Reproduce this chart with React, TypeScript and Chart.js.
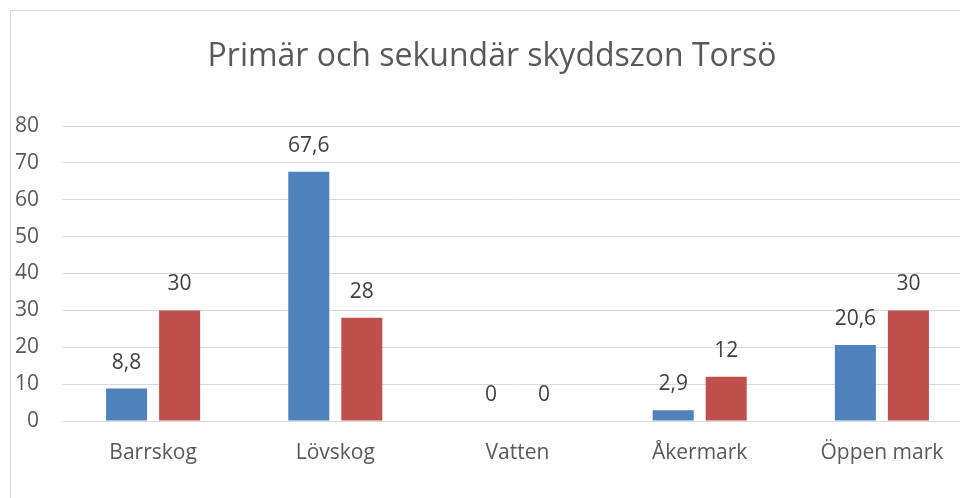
import React, { useEffect, useRef } from "react";
import { Chart, registerables } from "chart.js";

Chart.register(...registerables);

const categories = ["Barrskog", "Lövskog", "Vatten", "Åkermark", "Öppen mark"];
const seriesPrimary = [8.8, 67.6, 0, 2.9, 20.6];
const seriesSecondary = [30, 28, 0, 12, 30];
const seriesNames = ["Primär skyddszon", "Sekundär skyddszon"];
const titleText = "Primär och sekundär skyddszon Torsö";
const yMin = 0;
const yMax = 80;
const yStep = 10;

const FONT = "'Open Sans', 'Noto Sans', sans-serif";

const labelPlugin = {
  id: "valueLabels",
  afterDatasetsDraw(chart: any) {
    const ctx = chart.ctx;
    ctx.save();
    ctx.font = `21px ${FONT}`;
    ctx.fillStyle = "#404040";
    ctx.textAlign = "center";
    ctx.textBaseline = "middle";
    chart.data.datasets.forEach((ds: any, di: number) => {
      const meta = chart.getDatasetMeta(di);
      meta.data.forEach((bar: any, i: number) => {
        const v = ds.data[i];
        ctx.fillText(String(v).replace(".", ","), bar.x, bar.y - 26);
      });
    });
    ctx.restore();
  },
};

const titlePlugin = {
  id: "customTitle",
  afterDraw(chart: any) {
    const ctx = chart.ctx;
    ctx.save();
    ctx.font = `32px ${FONT}`;
    ctx.fillStyle = "#595959";
    ctx.textAlign = "center";
    ctx.textBaseline = "alphabetic";
    ctx.fillText(titleText, 481, 55);
    ctx.restore();
  },
};

export default function App() {
  const ref = useRef<HTMLCanvasElement>(null);
  useEffect(() => {
    if (!ref.current) return;
    const chart = new Chart(ref.current, {
      type: "bar",
      data: {
        labels: categories,
        datasets: [
          {
            label: seriesNames[0],
            data: seriesPrimary,
            backgroundColor: "#4F81BD",
            categoryPercentage: 0.582,
            barPercentage: 0.774,
          },
          {
            label: seriesNames[1],
            data: seriesSecondary,
            backgroundColor: "#C0504D",
            categoryPercentage: 0.582,
            barPercentage: 0.774,
          },
        ],
      },
      options: {
        responsive: false,
        animation: false,
        devicePixelRatio: 1,
        layout: { padding: { top: 115, left: 0, right: 0, bottom: 0 } },
        plugins: {
          legend: { display: false },
          title: { display: false },
          tooltip: { enabled: false },
        },
        scales: {
          x: {
            grid: { display: false, drawTicks: false },
            border: { display: true, color: "#d9d9d9", width: 1 },
            ticks: {
              color: "#595959",
              font: { family: FONT, size: 21 },
              padding: 19,
              maxRotation: 0,
            },
            afterFit: (s: any) => {
              s.height = 90;
            },
          },
          y: {
            min: yMin,
            max: yMax,
            grid: { color: "#d9d9d9", drawTicks: false, lineWidth: 1 },
            border: { display: false },
            ticks: {
              stepSize: yStep,
              color: "#595959",
              font: { family: FONT, size: 21 },
              padding: 23,
            },
            afterFit: (s: any) => {
              s.width = 51;
            },
          },
        },
      },
      plugins: [labelPlugin, titlePlugin],
    });
    return () => chart.destroy();
  }, []);

  return (
    <div
      style={{
        position: "fixed",
        left: 0,
        top: 0,
        width: 960,
        height: 498,
        overflow: "hidden",
        background: "#ffffff",
      }}
    >
      <div
        style={{
          position: "absolute",
          left: 10,
          top: 10,
          width: 990,
          height: 520,
          border: "1px solid #d9d9d9",
          background: "#ffffff",
        }}
      >
        <canvas ref={ref} width={962} height={500} style={{ display: "block" }} />
      </div>
    </div>
  );
}
